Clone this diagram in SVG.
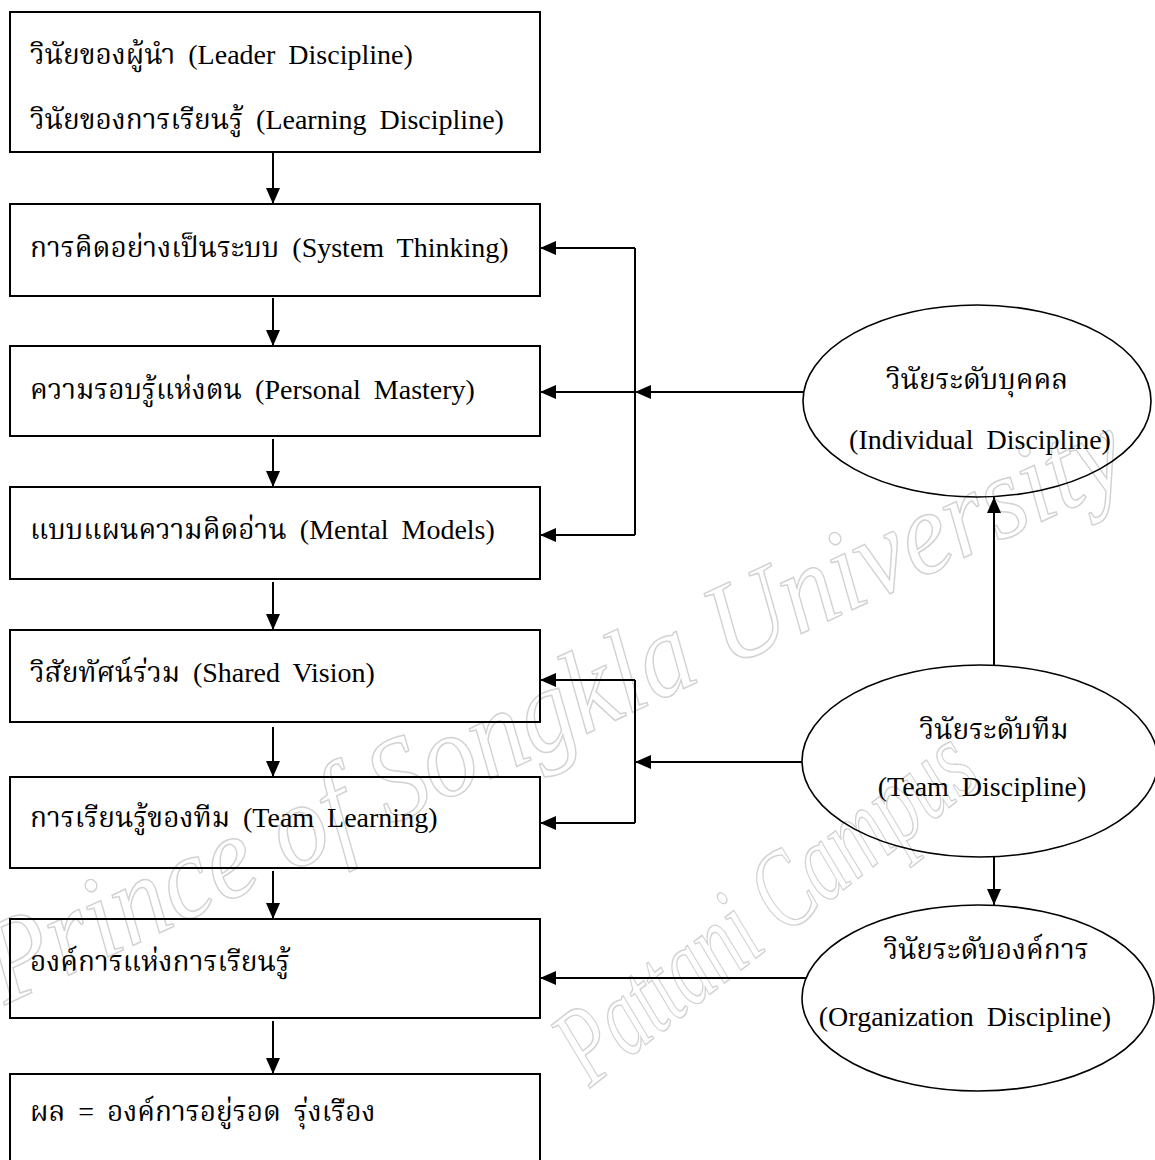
<svg xmlns="http://www.w3.org/2000/svg" width="1155" height="1160" viewBox="0 0 1155 1160">
<style>
.box{fill:none;stroke:#000;stroke-width:2}
.ell{fill:none;stroke:#000;stroke-width:1.6}
.t{font-family:'Liberation Serif','Noto Serif Thai','Noto Sans Thai',serif;font-size:28px;fill:#000;word-spacing:6px}
.tm{text-anchor:middle}
.c{fill:none;stroke:#000;stroke-width:2}
.wm{font-family:'Liberation Serif','DejaVu Serif',serif;font-style:italic;fill:none;stroke:#d2d2d2;stroke-width:1.5}
</style>
<defs>
<marker id="ah" markerUnits="userSpaceOnUse" markerWidth="16" markerHeight="14" refX="16" refY="7" orient="auto">
<path d="M0,0 L16,7 L0,14 z" fill="#000"/>
</marker>
</defs>
<rect width="1155" height="1160" fill="#fff"/>
<g id="watermark">
<text class="wm" font-size="118" transform="translate(5,1005) rotate(-25)" textLength="1245" lengthAdjust="spacingAndGlyphs">Prince of Songkla University</text>
<text class="wm" font-size="112" transform="translate(590,1088) rotate(-38)" textLength="500" lengthAdjust="spacingAndGlyphs">Pattani Campus</text>
</g>
<g id="connectors">
<path class="c" marker-end="url(#ah)" d="M273,153 V204"/>
<path class="c" marker-end="url(#ah)" d="M273,298 V346"/>
<path class="c" marker-end="url(#ah)" d="M273,439 V487"/>
<path class="c" marker-end="url(#ah)" d="M273,582 V630"/>
<path class="c" marker-end="url(#ah)" d="M273,727 V777"/>
<path class="c" marker-end="url(#ah)" d="M273,871 V919"/>
<path class="c" marker-end="url(#ah)" d="M273,1021 V1074"/>
<path class="c" d="M635,248 V535"/>
<path class="c" marker-end="url(#ah)" d="M635,248 H540"/>
<path class="c" marker-end="url(#ah)" d="M635,392 H540"/>
<path class="c" marker-end="url(#ah)" d="M635,535 H540"/>
<path class="c" marker-end="url(#ah)" d="M803,392 H635"/>
<path class="c" d="M635,680 V823"/>
<path class="c" marker-end="url(#ah)" d="M635,680 H540"/>
<path class="c" marker-end="url(#ah)" d="M635,823 H540"/>
<path class="c" marker-end="url(#ah)" d="M802,762 H635"/>
<path class="c" marker-end="url(#ah)" d="M806,978 H540"/>
<path class="c" marker-end="url(#ah)" d="M994,665 V497"/>
<path class="c" marker-end="url(#ah)" d="M994,857 V905"/>
</g>
<g id="n1"><rect class="box" x="10" y="12" width="530" height="140"/>
<text class="t" x="30" y="64">วินัยของผู้นำ (Leader Discipline)</text>
<text class="t" x="30" y="129">วินัยของการเรียนรู้ (Learning Discipline)</text></g>
<g id="n2"><rect class="box" x="10" y="204" width="530" height="92"/>
<text class="t" x="30" y="257">การคิดอย่างเป็นระบบ (System Thinking)</text></g>
<g id="n3"><rect class="box" x="10" y="346" width="530" height="90"/>
<text class="t" x="30" y="399">ความรอบรู้แห่งตน (Personal Mastery)</text></g>
<g id="n4"><rect class="box" x="10" y="487" width="530" height="92"/>
<text class="t" x="30" y="539">แบบแผนความคิดอ่าน (Mental Models)</text></g>
<g id="n5"><rect class="box" x="10" y="630" width="530" height="92"/>
<text class="t" x="30" y="682">วิสัยทัศน์ร่วม (Shared Vision)</text></g>
<g id="n6"><rect class="box" x="10" y="777" width="530" height="91"/>
<text class="t" x="30" y="827">การเรียนรู้ของทีม (Team Learning)</text></g>
<g id="n7"><rect class="box" x="10" y="919" width="530" height="99"/>
<text class="t" x="30" y="971">องค์การแห่งการเรียนรู้</text></g>
<g id="n8"><rect class="box" x="10" y="1074" width="530" height="100"/>
<text class="t" x="30" y="1121">ผล = องค์การอยู่รอด รุ่งเรือง</text></g>
<g id="e1"><ellipse class="ell" cx="977" cy="401" rx="174" ry="96"/>
<text class="t tm" x="977" y="389">วินัยระดับบุคคล</text>
<text class="t tm" x="980" y="449">(Individual Discipline)</text></g>
<g id="e2"><ellipse class="ell" cx="980" cy="761" rx="178" ry="96"/>
<text class="t tm" x="994" y="739">วินัยระดับทีม</text>
<text class="t tm" x="982" y="796">(Team Discipline)</text></g>
<g id="e3"><ellipse class="ell" cx="978" cy="998" rx="176" ry="93"/>
<text class="t tm" x="986" y="959">วินัยระดับองค์การ</text>
<text class="t tm" x="965" y="1026">(Organization Discipline)</text></g>
</svg>
